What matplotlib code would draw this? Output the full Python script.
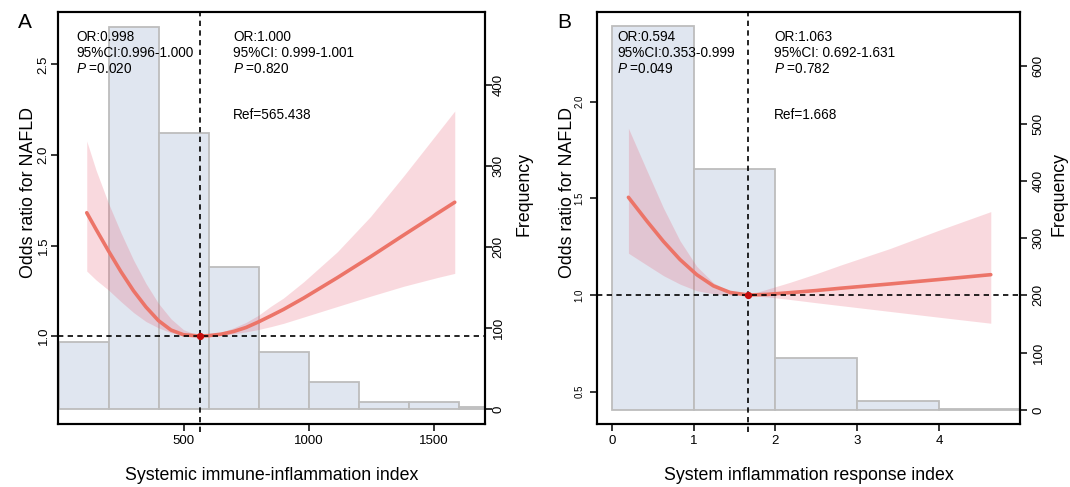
import numpy as np
import matplotlib.pyplot as plt

plt.rcParams['font.family'] = ['Liberation Sans', 'DejaVu Sans']
plt.rcParams['mathtext.fontset'] = 'custom'
plt.rcParams['mathtext.it'] = 'Liberation Sans:italic'
plt.rcParams['mathtext.rm'] = 'Liberation Sans'

# ---- panel A: systemic immune-inflammation index ----
sii_bin_left = [0, 200, 400, 600, 800, 1000, 1200, 1400, 1600]
sii_counts = [83, 472, 341, 175, 71, 34, 9, 9, 3]
sii_x = [113, 150, 200, 250, 300, 350, 400, 450, 500, 565, 600, 650, 700, 750,
         800, 850, 900, 981, 1115, 1248, 1381, 1515, 1585]
sii_or = [1.681, 1.590, 1.470, 1.355, 1.250, 1.160, 1.085, 1.033, 1.007, 1.000, 1.002, 1.010,
          1.025, 1.047, 1.078, 1.112, 1.147, 1.210, 1.322, 1.438, 1.558, 1.677, 1.739]
sii_hi = [2.077, 1.917, 1.733, 1.570, 1.420, 1.290, 1.180, 1.095, 1.035, 1.000, 1.006, 1.020,
          1.045, 1.075, 1.115, 1.165, 1.210, 1.300, 1.465, 1.660, 1.885, 2.120, 2.243]
sii_lo = [1.359, 1.310, 1.254, 1.190, 1.130, 1.080, 1.045, 1.018, 1.004, 1.000, 1.000, 1.004,
          1.012, 1.023, 1.036, 1.052, 1.070, 1.105, 1.163, 1.220, 1.275, 1.323, 1.346]
sii_ref = 565.438
sii_text_left = ['OR:0.998', '95%CI:0.996-1.000', '$P$ =0.020']
sii_text_right = ['OR:1.000', '95%CI: 0.999-1.001', '$P$ =0.820']

# ---- panel B: system inflammation response index ----
siri_bin_left = [0, 1, 2, 3, 4]
siri_counts = [670, 420, 91, 16, 2]
siri_x = [0.204, 0.428, 0.632, 0.835, 1.039, 1.243, 1.447, 1.668, 1.9, 2.176, 2.5, 2.8,
          3.4, 4.0, 4.633]
siri_or = [1.505, 1.383, 1.277, 1.183, 1.105, 1.047, 1.013, 1.000, 1.003, 1.012, 1.023, 1.035,
           1.057, 1.080, 1.105]
siri_hi = [1.862, 1.645, 1.450, 1.280, 1.148, 1.063, 1.018, 1.000, 1.030, 1.065, 1.110, 1.155,
           1.240, 1.335, 1.431]
siri_lo = [1.216, 1.155, 1.100, 1.056, 1.022, 1.006, 1.000, 1.000, 0.990, 0.977, 0.960, 0.945,
           0.915, 0.885, 0.854]
siri_ref = 1.668
siri_text_left = ['OR:0.594', '95%CI:0.353-0.999', '$P$ =0.049']
siri_text_right = ['OR:1.063', '95%CI: 0.692-1.631', '$P$ =0.782']

W, H = 1070, 487
fig = plt.figure(figsize=(W / 100, H / 100), dpi=100)

HIST_FILL = '#E0E6F0'
HIST_EDGE = '#BDBDBD'
BAND = '#E8546A'
LINE = '#EC7468'


def ftxt(px, py, s, **kw):
    fig.text(px / W, 1 - py / H, s, **kw)


def panel(l, r, t, b, bin_left, bin_w, counts, x, orv, lo, hi, ref,
          xlim, ylim, flim, xticks, yticks, fticks, ytick_size, ypad, fpad,
          letter, xlabel, txt_l, txt_r, txt_lx, txt_rx, ref_label):
    ax = fig.add_axes([l / W, 1 - b / H, (r - l) / W, (b - t) / H])
    axf = ax.twinx()
    ax.set_zorder(axf.get_zorder() + 1)
    ax.patch.set_visible(False)

    axf.bar(bin_left, counts, width=bin_w, align='edge', color=HIST_FILL,
            edgecolor=HIST_EDGE, linewidth=1.3)
    axf.set_ylim(flim)
    axf.set_yticks(fticks)

    ax.fill_between(x, lo, hi, color=BAND, alpha=0.22, linewidth=0)
    ax.plot(x, orv, color=LINE, lw=2.6, solid_capstyle='round', solid_joinstyle='round')
    ax.axhline(1, color='black', lw=1.2, dashes=(3.2, 2.6))
    ax.plot([ref, ref], [-0.02, 1], transform=ax.get_xaxis_transform(),
            color='black', lw=1.2, dashes=(3.2, 2.6), clip_on=False)
    ax.plot([ref], [1], 'o', color='#C80E0E', ms=4.2, zorder=5)

    ax.set_xlim(xlim)
    ax.set_ylim(ylim)
    ax.set_xticks(xticks)
    ax.set_yticks(yticks)
    ax.tick_params(axis='x', direction='out', length=5, width=1.1, labelsize=9.5, pad=3)
    ax.tick_params(axis='y', direction='out', length=5, width=1.1, labelsize=ytick_size, pad=ypad)
    axf.tick_params(axis='y', direction='out', length=5, width=1.1, labelsize=9.5, pad=fpad)
    plt.setp(ax.get_yticklabels(), rotation=90, va='center')
    plt.setp(axf.get_yticklabels(), rotation=90, va='center')
    for a in (ax, axf):
        for s in a.spines.values():
            s.set_linewidth(1.5)
            s.set_color('black')

    cx = (l + r) / 2
    ftxt(cx, 476, xlabel, ha='center', va='center', fontsize=12.8)
    ftxt(l - 29, 192, 'Odds ratio for NAFLD', ha='center', va='center',
         rotation=90, fontsize=12.8)
    ftxt(r + 39, 194, 'Frequency', ha='center', va='center', rotation=90, fontsize=12.8)
    ftxt(l - 40, 22, letter, ha='left', va='center', fontsize=15)

    for i, s in enumerate(txt_l):
        ftxt(txt_lx, 37 + 16 * i, s, ha='left', va='center', fontsize=9.8)
    for i, s in enumerate(txt_r):
        ftxt(txt_rx, 37 + 16 * i, s, ha='left', va='center', fontsize=9.8)
    ftxt(txt_rx, 115, ref_label, ha='left', va='center', fontsize=9.8)


panel(58, 485, 12, 424, sii_bin_left, 200, sii_counts, sii_x, sii_or, sii_lo, sii_hi,
      sii_ref, (-2, 1706), (0.514, 2.79), (-18, 490), [500, 1000, 1500],
      [1.0, 1.5, 2.0, 2.5], [0, 100, 200, 300, 400], 9.5, 1, 0.5,
      'A', 'Systemic immune-inflammation index', sii_text_left, sii_text_right,
      76, 233, 'Ref=565.438')

panel(597, 1020, 12, 424, siri_bin_left, 1, siri_counts, siri_x, siri_or, siri_lo, siri_hi,
      siri_ref, (-0.18, 4.99), (0.333, 2.463), (-24.4, 694.6), [0, 1, 2, 3, 4],
      [0.5, 1.0, 1.5, 2.0], [0, 100, 200, 300, 400, 500, 600], 7, 4, 4,
      'B', 'System inflammation response index', siri_text_left, siri_text_right,
      617, 774, 'Ref=1.668')

fig.savefig('out.png', dpi=100)
